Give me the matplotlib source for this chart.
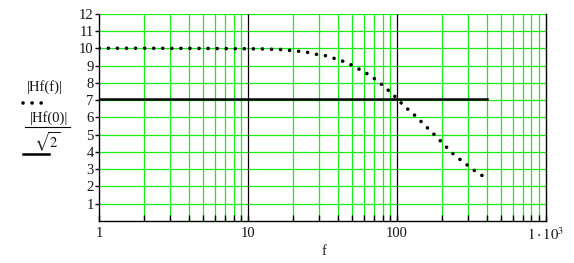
import matplotlib
matplotlib.use('Agg')
import matplotlib.pyplot as plt
from matplotlib.lines import Line2D
from matplotlib.ticker import FixedLocator, NullFormatter

# values
f_vals = [1, 2, 5, 10, 12.4, 14.2, 16.3, 18.7, 21.6, 24.8, 28.5, 32.7, 37.6, 43.2,
          49.7, 57.1, 65.6, 74.3, 82.8, 93.8, 100, 112, 133, 153, 182, 208, 243,
          289, 341, 376, 400]
hf_vals = [10.0, 10.0, 9.99, 9.97, 9.96, 9.94, 9.93, 9.88, 9.83, 9.77, 9.65, 9.58,
           9.42, 9.25, 9.02, 8.73, 8.44, 8.10, 7.74, 7.34, 7.07, 6.65, 6.08, 5.56,
           4.92, 4.40, 3.81, 3.31, 2.84, 2.61, 2.45]
cutoff = 7.07
cut_f = [1, 400]

y_ticks = list(range(1, 13))
x_major = [1, 10, 100, 1000]
x_labels = ['1', '10', '100', r'$1\cdot10^3$']
x_minor = [m * d for d in (1, 10, 100) for m in range(2, 10)]

plt.rcParams['font.family'] = ['Liberation Serif', 'DejaVu Serif']
plt.rcParams['mathtext.fontset'] = 'stix'
txt = '#141414'
green = '#14ee14'
dots = (0, (0.01, 2.5))

fig = plt.figure(figsize=(5.74, 2.63), dpi=100)
ax = fig.add_axes([0.173, 0.1597, 0.778, 0.7883])

ax.set_xscale('log')
ax.set_xlim(1, 1000)
ax.set_ylim(0, 12)

# grid
for y in y_ticks:
    ax.axhline(y, color=green, lw=0.9, zorder=1)
for x in x_minor:
    ax.axvline(x, color=green, lw=0.9, zorder=1)
for x in (10, 100):
    ax.axvline(x, color='black', lw=0.9, zorder=1.5)

# traces
ax.plot(f_vals, hf_vals, color='black', lw=2.6, linestyle=dots,
        dash_capstyle='round', zorder=3)
ax.plot(cut_f, [cutoff, cutoff], color='black', lw=1.8, zorder=3)

ax.spines['top'].set_visible(False)
for s in ('left', 'bottom', 'right'):
    ax.spines[s].set_linewidth(1.0)

ax.xaxis.set_major_locator(FixedLocator(x_major))
ax.xaxis.set_minor_locator(FixedLocator(x_minor))
ax.xaxis.set_minor_formatter(NullFormatter())
ax.set_xticklabels(x_labels)
ax.tick_params(axis='x', which='both', direction='in', length=4, width=1,
               labelsize=10.5, labelcolor=txt, pad=4)
ax.set_yticks(y_ticks)
ax.tick_params(axis='y', direction='out', length=3, width=1, labelsize=10.5,
               labelcolor=txt, pad=1)

fig.text(0.564, 0.045, 'f', fontsize=10.5, color=txt, ha='center', va='center')

# legend-like y label
fig.text(0.079, 0.668, '|Hf(f)|', fontsize=10.5, color=txt, ha='center', va='center')
fig.lines.append(Line2D([0.040, 0.075], [0.608, 0.608], transform=fig.transFigure,
                        color='black', lw=2.6, linestyle=dots,
                        dash_capstyle='round'))
fig.text(0.085, 0.552, '|Hf(0)|', fontsize=10.5, color=txt, ha='center', va='center')
fig.lines.append(Line2D([0.043, 0.122], [0.517, 0.517], transform=fig.transFigure,
                        color='black', lw=0.8))
fig.text(0.083, 0.458, r'$\sqrt{2}$', fontsize=10.5, color=txt, ha='center', va='center')
fig.lines.append(Line2D([0.040, 0.085], [0.413, 0.413], transform=fig.transFigure,
                        color='black', lw=1.8))

fig.savefig('out.png', dpi=100)
